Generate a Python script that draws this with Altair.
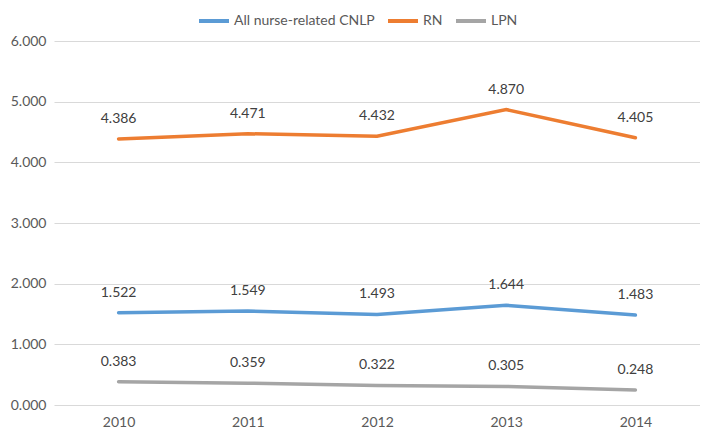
import altair as alt
import pandas as pd

years = ["2010", "2011", "2012", "2013", "2014"]
series_names = ["All nurse-related CNLP", "RN", "LPN"]
cnlp = [1.522, 1.549, 1.493, 1.644, 1.483]
rn = [4.386, 4.471, 4.432, 4.870, 4.405]
lpn = [0.383, 0.359, 0.322, 0.305, 0.248]
colors = ["#5B9BD5", "#ED7D31", "#A5A5A5"]
y_ticks = [0, 1, 2, 3, 4, 5, 6]

rows = []
for name, vals in zip(series_names, [cnlp, rn, lpn]):
    for yr, v in zip(years, vals):
        rows.append({"year": yr, "series": name, "value": v})
df = pd.DataFrame(rows)

FONT = "Lato"

x = alt.X("year:O", title=None,
          scale=alt.Scale(domain=years, padding=0.5),
          axis=alt.Axis(labelAngle=0, domain=False, ticks=False, grid=False,
                        labelPadding=10, labelFontSize=14, labelColor="#595959",
                        labelFont=FONT))
y = alt.Y("value:Q", title=None,
          scale=alt.Scale(domain=[0, 6], nice=False),
          axis=alt.Axis(values=y_ticks, format=".3f", domain=False, ticks=False,
                        grid=True, gridColor="#D9D9D9", gridWidth=1,
                        labelPadding=8, labelFontSize=14, labelColor="#595959",
                        labelFont=FONT))

base = alt.Chart(df).encode(x=x, y=y)

lines = base.mark_line(strokeWidth=3.5, strokeCap="round").encode(
    color=alt.Color("series:N",
                    scale=alt.Scale(domain=series_names, range=colors),
                    sort=series_names,
                    legend=alt.Legend(title=None, orient="none", direction="horizontal",
                                      legendX=143, legendY=-37,
                                      symbolType="stroke", symbolSize=900,
                                      symbolStrokeWidth=4, labelOffset=3,
                                      columnPadding=5, labelFontSize=14,
                                      labelColor="#595959", labelFont=FONT))
)

labels = base.mark_text(dy=-20, fontSize=14, color="#404040", font=FONT).encode(
    text=alt.Text("value:Q", format=".3f")
)

chart = alt.layer(lines, labels).properties(
    width=646, height=364,
    padding={"left": 46, "top": 33, "right": 0, "bottom": 26},
    autosize="none",
).configure_view(stroke=None)

chart.save("out.html", embed_options={"renderer": "svg", "actions": False})
